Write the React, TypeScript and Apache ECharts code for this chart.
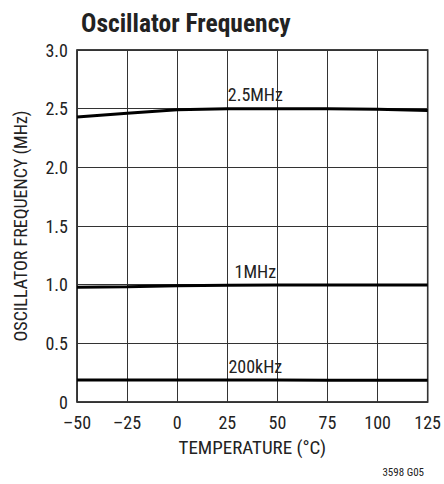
import React, { useEffect, useRef } from "react";
import * as echarts from "echarts";

const temps = [-50, -25, 0, 25, 50, 75, 100, 125];
const f2500k = [2.43, 2.46, 2.49, 2.5, 2.5, 2.5, 2.495, 2.485];
const f1000k = [0.977, 0.983, 0.99, 0.995, 0.997, 0.998, 0.998, 0.997];
const f200k = [0.188, 0.188, 0.188, 0.187, 0.187, 0.186, 0.186, 0.185];
const curveLabels = ["2.5MHz", "1MHz", "200kHz"];
const xTicks = { min: -50, max: 125, interval: 25 };
const yTicks = { min: 0, max: 3, interval: 0.5 };

const FONT = "'Liberation Sans Narrow', 'Roboto Condensed', 'DejaVu Sans Condensed', Roboto, sans-serif";

export default function App() {
  const ref = useRef<HTMLDivElement>(null);
  useEffect(() => {
    const chart = echarts.init(ref.current!, undefined, { renderer: "svg" });
    const mk = (data: number[], label: string, labelY: number) => ({
      type: "line",
      data: temps.map((t, i) => [t, data[i]]),
      symbol: "none",
      lineStyle: { color: "#000", width: 3 },
      markPoint: {
        symbol: "circle",
        symbolSize: 0,
        data: [{ coord: [39, labelY], value: label }],
        label: {
          show: true,
          formatter: label,
          position: "top",
          distance: 5,
          color: "#222",
          fontSize: 18,
          fontFamily: FONT,
        },
      },
    });
    chart.setOption({
      animation: false,
      title: {
        text: "Oscillator Frequency",
        left: 76,
        top: 5,
        textStyle: { fontSize: 25.5, fontWeight: "bold", color: "#222", fontFamily: FONT },
      },
      graphic: [
        {
          type: "text",
          right: 20,
          top: 467,
          style: { text: "3598 G05", fontSize: 11, fill: "#222", fontFamily: FONT },
        },
      ],
      grid: { left: 77, top: 50, width: 352, height: 352, show: true, borderColor: "#000", borderWidth: 1.5 },
      xAxis: {
        type: "value",
        min: xTicks.min,
        max: xTicks.max,
        interval: xTicks.interval,
        name: "TEMPERATURE (°C)",
        nameLocation: "middle",
        nameGap: 36,
        nameTextStyle: { fontSize: 19, color: "#222", fontFamily: FONT },
        axisLine: { show: false },
        axisTick: { show: false },
        splitLine: { show: true, lineStyle: { color: "#333", width: 1 } },
        axisLabel: {
          fontSize: 18,
          color: "#222",
          fontFamily: FONT,
          margin: 11,
          formatter: (v: number) => String(v).replace("-", "\u2013"),
        },
      },
      yAxis: {
        type: "value",
        min: yTicks.min,
        max: yTicks.max,
        interval: yTicks.interval,
        name: "OSCILLATOR FREQUENCY (MHz)",
        nameLocation: "middle",
        nameGap: 48,
        nameTextStyle: { fontSize: 18, color: "#222", fontFamily: FONT },
        axisLine: { show: false },
        axisTick: { show: false },
        splitLine: { show: true, lineStyle: { color: "#333", width: 1 } },
        axisLabel: {
          fontSize: 18,
          color: "#222",
          fontFamily: FONT,
          margin: 9,
          formatter: (v: number) => (v === 0 ? "0" : v.toFixed(1)),
        },
      },
      series: [
        mk(f2500k, curveLabels[0], 2.5),
        mk(f1000k, curveLabels[1], 0.997),
        mk(f200k, curveLabels[2], 0.187),
      ],
    });
    return () => chart.dispose();
  }, []);
  return (
    <div
      ref={ref}
      style={{ position: "fixed", left: 0, top: 0, width: 444, height: 484, background: "#fff" }}
    />
  );
}
